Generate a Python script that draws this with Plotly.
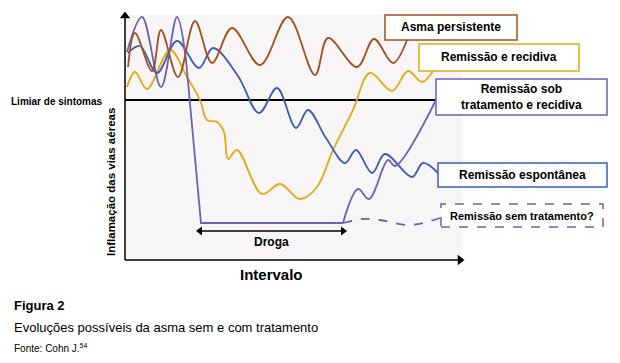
import plotly.graph_objects as go

# ---- data (time units, inflammation units) ----
brown_x = [3, 10, 27, 36, 53, 70, 87, 107, 135, 163, 190, 203, 232, 249, 268, 282]
brown_y = [193, 227, 189, 230, 183, 239, 197, 232, 195, 243, 185, 222, 193, 221, 197, 220]

blue_x = [3, 15, 32, 52, 74, 88, 113, 134, 152, 171, 183, 201, 220, 231, 247, 260, 287, 298, 313]
blue_y = [207, 214, 187, 219, 192, 212, 184, 147, 172, 132, 150, 122, 97, 110, 87, 106, 83, 97, 87]

yellow_x = [2, 10, 22, 45, 62, 75, 82, 92, 99, 103, 112, 137, 155, 175, 192, 208, 228, 245, 267, 283, 297, 308]
yellow_y = [173, 188, 171, 210, 183, 160, 140, 138, 128, 101, 110, 66, 76, 61, 73, 110, 150, 187, 169, 189, 178, 189]

purple_a_x = [2, 17, 36, 52, 61]
purple_a_y = [208, 243, 173, 243, 200]
purple_b_x = [61, 76, 218]
purple_b_y = [200, 37, 37]
purple_c_x = [218, 233, 244, 263, 270, 312]
purple_c_y = [37, 71, 61, 100, 94, 162]

dashed_x = [218, 238, 255, 285, 315]
dashed_y = [37, 41, 40, 35, 42]

threshold_x = [0, 311]
threshold_y = [160, 160]

drug_start, drug_end, drug_level = 75, 218, 29
x_max, y_max = 337, 245

# ---- styling ----
BROWN = "#a3501f"
YELLOW = "#e2aa18"
BLUE = "#3b5db4"
PURPLE = "#7060b0"
FONT = "Liberation Sans"

# page has an 8px body margin: figure covers page pixels 8..612 x 8..355
OFF = 8
W, H = 620 - 2 * OFF, 363 - 2 * OFF
# plot area in page pixels: x 125..462, y 15..260
L, R, T, B = 125, 462, 15, 260


def PX(p):
    return (p - L) / (R - L)


def PY(p):
    return (B - p) / (B - T)


fig = go.Figure()


def add_line(x, y, color, shape="spline", dash="solid"):
    fig.add_trace(go.Scatter(x=x, y=y, mode="lines",
                             line=dict(color=color, width=1.8, shape=shape, dash=dash, smoothing=1.0),
                             showlegend=False, hoverinfo="skip"))


add_line(threshold_x, threshold_y, "black", shape="linear")
add_line(yellow_x, yellow_y, YELLOW)
add_line(blue_x, blue_y, BLUE)
add_line(purple_a_x, purple_a_y, PURPLE)
add_line(purple_b_x, purple_b_y, PURPLE, shape="linear")
add_line(purple_c_x, purple_c_y, PURPLE)
add_line(dashed_x, dashed_y, PURPLE, dash="dash")
add_line(brown_x, brown_y, BROWN)

# drug arrow (line with arrowheads as markers)
fig.add_trace(go.Scatter(x=[drug_start, drug_end], y=[drug_level, drug_level], mode="lines+markers",
                         line=dict(color="black", width=1.5),
                         marker=dict(symbol=["triangle-left", "triangle-right"], size=8, color="black"),
                         showlegend=False, hoverinfo="skip", cliponaxis=False))

# axis arrowheads
fig.add_trace(go.Scatter(x=[0, x_max - 2], y=[y_max - 1, 0], mode="markers",
                         marker=dict(symbol=["triangle-up", "triangle-right"], size=9, color="black"),
                         showlegend=False, hoverinfo="skip", cliponaxis=False))

shapes = []
annotations = []

# axis lines
shapes.append(dict(type="line", xref="paper", yref="paper", x0=0, x1=PX(458), y0=0, y1=0,
                   line=dict(color="black", width=1.5), layer="above"))
shapes.append(dict(type="line", xref="paper", yref="paper", x0=0, x1=0, y0=0, y1=PY(17),
                   line=dict(color="black", width=1.5), layer="above"))


def box(x0, y0, x1, y1, color, text, size=12, dash="solid"):
    shapes.append(dict(type="rect", xref="paper", yref="paper",
                       x0=PX(x0), x1=PX(x1), y0=PY(y1), y1=PY(y0),
                       line=dict(color=color, width=1.5, dash=dash),
                       fillcolor="white", layer="above"))
    annotations.append(dict(xref="paper", yref="paper", x=PX((x0 + x1) / 2), y=PY((y0 + y1) / 2),
                            text="<b>" + text + "</b>", showarrow=False,
                            font=dict(family=FONT, size=size, color="black"),
                            xanchor="center", yanchor="middle"))


box(385, 15, 517, 40, BROWN, "Asma persistente")
box(419, 44, 579, 71, YELLOW, "Remissão e recidiva")
box(436, 79, 607, 115, PURPLE, "Remissão sob<br>tratamento e recidiva")
box(438, 163, 607, 187, BLUE, "Remissão espontânea")
box(441, 204, 603, 227, PURPLE, "Remissão sem tratamento?", size=11, dash="dash")

annotations.append(dict(xref="x", yref="y", x=(drug_start + drug_end) / 2, y=drug_level - 11,
                        text="<b>Droga</b>", showarrow=False,
                        font=dict(family=FONT, size=12, color="black")))

# labels
annotations.append(dict(xref="paper", yref="paper", x=PX(105), y=PY(101), xanchor="right",
                        yanchor="middle", text="<b>Limiar de sintomas</b>", showarrow=False,
                        font=dict(family=FONT, size=10, color="black")))
annotations.append(dict(xref="paper", yref="paper", x=PX(111), y=PY(182), textangle=-90,
                        xanchor="center", yanchor="middle", text="<b>Inflamação das vias aéreas</b>",
                        showarrow=False, font=dict(family=FONT, size=11.5, color="black")))
annotations.append(dict(xref="paper", yref="paper", x=PX(271), y=PY(274), xanchor="center",
                        yanchor="middle", text="<b>Intervalo</b>", showarrow=False,
                        font=dict(family=FONT, size=15, color="black")))
annotations.append(dict(xref="paper", yref="paper", x=PX(12), y=PY(305), xanchor="left",
                        yanchor="middle", text="<b>Figura 2</b>", showarrow=False,
                        font=dict(family=FONT, size=13, color="black")))
annotations.append(dict(xref="paper", yref="paper", x=PX(12), y=PY(327), xanchor="left",
                        yanchor="middle", text="Evoluções possíveis da asma sem e com tratamento",
                        showarrow=False, font=dict(family=FONT, size=13, color="black")))
annotations.append(dict(xref="paper", yref="paper", x=PX(12), y=PY(348), xanchor="left",
                        yanchor="middle", text="Fonte: Cohn J.<sup>54</sup>",
                        showarrow=False, font=dict(family=FONT, size=10, color="black")))

fig.update_layout(
    width=W, height=H,
    margin=dict(l=L - OFF, r=W - (R - OFF), t=T - OFF, b=H - (B - OFF)),
    paper_bgcolor="white", plot_bgcolor="#f7f5f5",
    xaxis=dict(range=[0, x_max], visible=False, fixedrange=True),
    yaxis=dict(range=[0, y_max], visible=False, fixedrange=True),
    shapes=shapes, annotations=annotations,
    showlegend=False,
)

fig.write_html("out.html")
